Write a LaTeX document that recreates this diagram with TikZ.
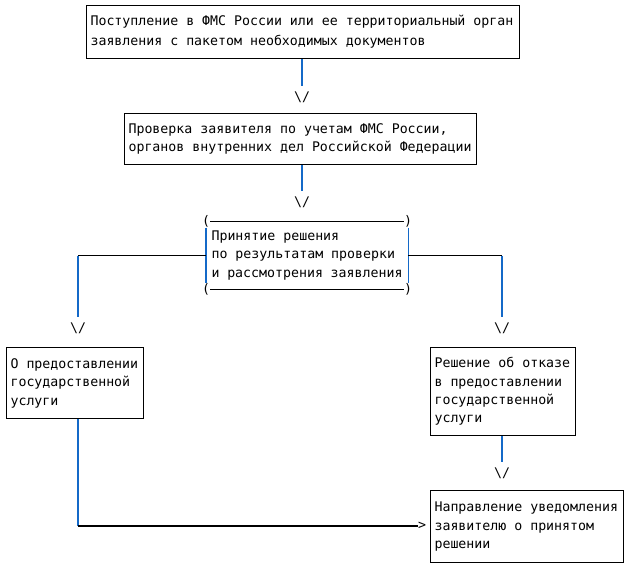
\documentclass[tikz,border=0pt]{standalone}
\usepackage{fontspec}
\newfontfamily\schemefont{DejaVu Sans Mono}
\definecolor{lineblue}{RGB}{20,105,200}
\begin{document}
\begin{tikzpicture}[x=1bp,y=-1bp,
        box/.style={draw, line width=1.1bp, anchor=north west, align=flush left,
            inner xsep=4bp, inner ysep=0pt,
            execute at begin node={\spaceskip=0pt\xspaceskip=0pt},
            font=\schemefont\fontsize{13.3}{18.5}\selectfont},
        tip/.style={inner xsep=0pt, inner ysep=5bp, font=\schemefont\fontsize{13.3}{16}\selectfont},
        paren/.style={inner sep=0pt, font=\schemefont\fontsize{13.3}{16}\selectfont},
        vline/.style={draw=lineblue, line width=1.1bp},
        hline/.style={draw=black, line width=1.1bp}]
    \useasboundingbox (0,0) rectangle (628,569);
    \node [box, text width=425bp, minimum height=53bp,
        font=\schemefont\fontsize{13.3}{20}\selectfont] (receipt) at (86,5)
        {Поступление в ФМС России или ее территориальный орган\\заявления с пакетом необходимых документов};
    \node [tip] (tip1) at (302,97) {\textbackslash/};
    \draw [vline] (tip1 |- receipt.south) -- (tip1.north);
    \node [box, text width=344bp, minimum height=51bp] (check) at (124,113)
        {Проверка заявителя по учетам ФМС России,\\органов внутренних дел Российской Федерации};
    \node [tip] (tip2) at (302,202) {\textbackslash/};
    \draw [vline] (tip2 |- check.south) -- (tip2.north);
    \node [box, draw=none, anchor=west, inner xsep=5bp, text width=191bp, minimum height=67bp] (decision) at (206,255.5)
        {Принятие решения\\по результатам проверки\\и рассмотрения заявления};
    \node [paren] (dtl) at (decision.north west) {(};
    \node [paren] (dtr) at (decision.north east) {)};
    \node [paren] (dbl) at (decision.south west) {(};
    \node [paren] (dbr) at (decision.south east) {)};
    \draw [hline] (dtl) -- (dtr);
    \draw [hline] (dbl) -- (dbr);
    \draw [vline] (dtl.south) -- (dbl.north);
    \draw [vline] (dtr.south) -- (dbr.north);
    \node [tip] (tip3) at (78,328) {\textbackslash/};
    \node [tip] (tip4) at (502,328) {\textbackslash/};
    \draw [hline] (decision.west) -- (decision.west -| tip3);
    \draw [vline] (decision.west -| tip3) -- (tip3.north);
    \draw [hline] (decision.east) -- (decision.east -| tip4);
    \draw [vline] (decision.east -| tip4) -- (tip4.north);
    \node [box, text width=129bp, minimum height=71bp] (grant) at (6,347)
        {О предоставлении\\государственной\\услуги};
    \node [box, text width=137bp, minimum height=88bp] (refusal) at (430,347)
        {Решение об отказе\\в предоставлении\\государственной\\услуги};
    \node [tip] (tip5) at (502,473) {\textbackslash/};
    \draw [vline] (tip5 |- refusal.south) -- (tip5.north);
    \node [box, text width=185bp, minimum height=72bp] (notice) at (430,490)
        {Направление уведомления\\заявителю о принятом\\решении};
    \node [paren] (tip6) at (422,526) {>};
    \draw [vline] (tip3 |- grant.south) -- (tip3 |- tip6);
    \draw [hline] (tip3 |- tip6) -- (tip6.west);
\end{tikzpicture}
\end{document}
